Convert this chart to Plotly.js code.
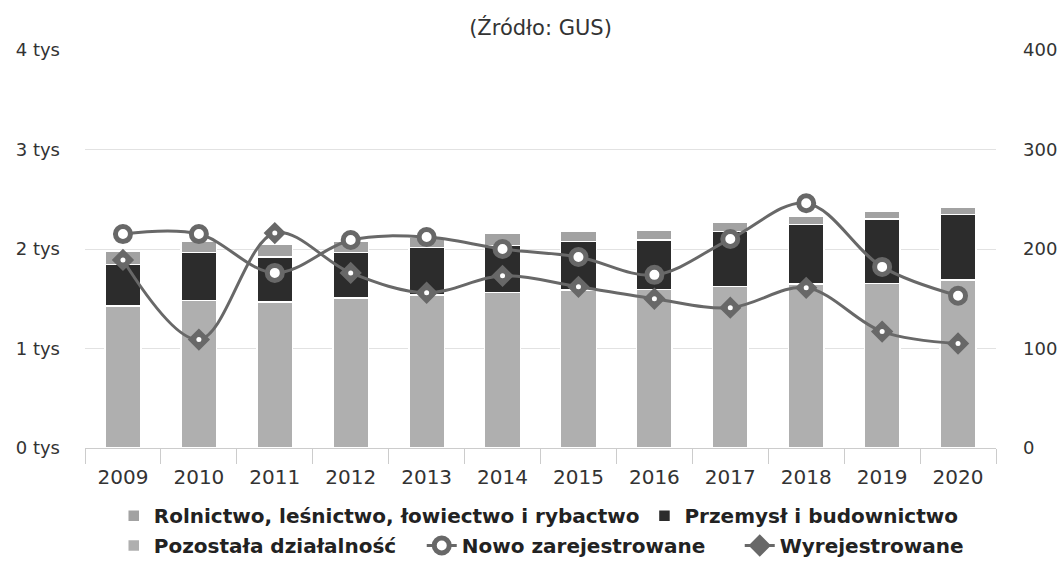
<!DOCTYPE html>
<html>
<head>
<meta charset="utf-8">
<script src="https://cdn.plot.ly/plotly-3.0.1.min.js"></script>
<style>html,body{margin:0;padding:0;background:#fff;}#chart{width:1063px;height:583px;}</style>
</head>
<body>
<div id="chart"></div>
<script>
const years = ['2009','2010','2011','2012','2013','2014','2015','2016','2017','2018','2019','2020'];
const rolnictwo = [127,117,127,117,100,125,108,101,94,77,81,70];
const przemysl = [419,483,453,455,479,468,485,495,553,600,646,661];
const pozostala = [1427,1480,1467,1508,1538,1565,1588,1595,1621,1648,1655,1688];
const nowo = [215,215,176,209,212,200,192,174,210,246,182,153];
const wyrej = [189,109,216,176,156,173,162,150,141,161,117,105];
const leftTicks = [0,1000,2000,3000,4000];
const leftLabels = ['0 tys','1 tys','2 tys','3 tys','4 tys'];
const rightTicks = [0,100,200,300,400];

const lineColor = '#686868';
const barW = 0.47;
const traces = [
  {type:'bar', name:'Pozostała działalność', x:years, y:pozostala, width:barW, legend:'legend2', legendwidth:263,
   marker:{color:'#afafaf', line:{color:'#ffffff', width:1.5}}, hoverinfo:'none'},
  {type:'bar', name:'Przemysł i budownictwo', x:years, y:przemysl, width:barW, legend:'legend', legendrank:2,
   marker:{color:'#2c2c2c', line:{color:'#ffffff', width:1.5}}, hoverinfo:'none'},
  {type:'bar', name:'Rolnictwo, leśnictwo, łowiectwo i rybactwo', x:years, y:rolnictwo, width:barW, legend:'legend', legendrank:1,
   marker:{color:'#a2a2a2', line:{color:'#ffffff', width:1.5}}, hoverinfo:'none'},
  {type:'scatter', mode:'lines+markers', name:'Nowo zarejestrowane', x:years, y:nowo, yaxis:'y2', legend:'legend2', legendwidth:273,
   line:{color:lineColor, width:3, shape:'spline'},
   marker:{symbol:'circle', size:15, color:'#ffffff', line:{color:lineColor, width:5}}, hoverinfo:'none'},
  {type:'scatter', mode:'lines+markers', name:'Wyrejestrowane', x:years, y:wyrej, yaxis:'y2', legend:'legend2',
   line:{color:lineColor, width:3, shape:'spline'},
   marker:{symbol:'diamond', size:15, color:lineColor, line:{color:lineColor, width:2}}, hoverinfo:'none'},
  {type:'scatter', mode:'markers', name:'dot', x:years, y:wyrej, yaxis:'y2', showlegend:false,
   marker:{symbol:'circle', size:5, color:'#ffffff'}, hoverinfo:'none'}
];

const legendFont = {family:'DejaVu Sans, sans-serif', size:20, color:'#222222', weight:'bold'};
const layout = {
  width:1063, height:583,
  margin:{l:85, r:67, t:50, b:135},
  paper_bgcolor:'#ffffff', plot_bgcolor:'#ffffff',
  barmode:'stack',
  font:{family:'DejaVu Sans, sans-serif', color:'#333333'},
  title:{text:'(Źródło: GUS)', x:0.5, xref:'paper', y:0.953, yref:'container', yanchor:'middle',
         font:{family:'DejaVu Sans, sans-serif', size:21, color:'#333333'}},
  xaxis:{type:'category', range:[-0.5, 11.5], autorange:false, showgrid:false, showline:true,
         linecolor:'#cccccc', linewidth:1, ticks:'outside', tickson:'boundaries', ticklen:15,
         tickcolor:'#cccccc', tickfont:{size:20, color:'#333333'}, ticklabelstandoff:11,
         automargin:false, fixedrange:true},
  yaxis:{range:[0,4000], tickvals:leftTicks, ticktext:leftLabels, showgrid:true, gridcolor:'#e2e2e2',
         gridwidth:1, zeroline:false, showline:false, tickfont:{size:18, color:'#333333'},
         ticklabelstandoff:24, automargin:false, fixedrange:true},
  yaxis2:{range:[0,400], tickvals:rightTicks, overlaying:'y', side:'right', showgrid:false,
          zeroline:false, showline:false, tickfont:{size:18, color:'#333333'},
          ticklabelstandoff:26, automargin:false, fixedrange:true},
  showlegend:true,
  legend:{orientation:'h', x:0.107, xref:'container', xanchor:'left', y:0.149, yref:'container', yanchor:'top',
          font:legendFont, traceorder:'normal', bgcolor:'rgba(0,0,0,0)'},
  legend2:{orientation:'h', x:0.107, xref:'container', xanchor:'left', y:0.0978, yref:'container', yanchor:'top',
          font:legendFont, traceorder:'normal', bgcolor:'rgba(0,0,0,0)'}
};

Plotly.newPlot('chart', traces, layout, {displayModeBar:false, staticPlot:true});
</script>
</body>
</html>
